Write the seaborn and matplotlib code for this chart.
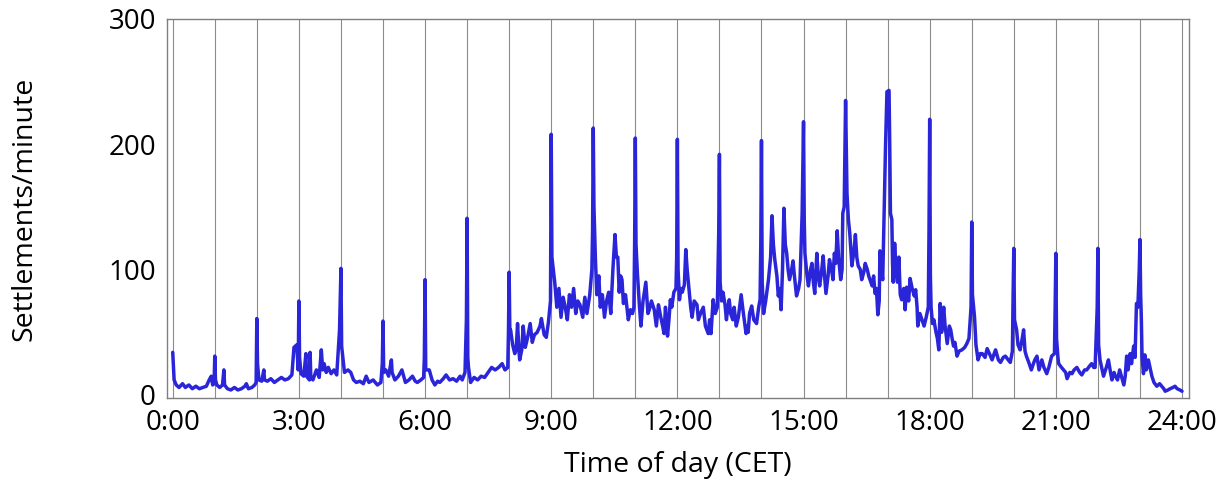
import numpy as np
import pandas as pd
import matplotlib
matplotlib.use("Agg")
import matplotlib.pyplot as plt
import seaborn as sns

# minute of day (0..1440) and settlements per minute
minute = [
    0, 2, 5, 9, 14, 18, 23, 28, 33, 38, 43, 48, 52, 55, 57, 59,
    60, 61, 63, 67, 71, 73, 74, 78, 83, 88, 93, 98, 103, 105, 108, 113, 117, 119,
    120, 121, 123, 127, 130, 131, 135, 140, 145, 150, 155, 160, 165, 170, 173, 177, 179,
    180, 181, 183, 187, 190, 191, 195, 196, 197, 200, 205, 209, 212, 214, 216, 219, 222, 226, 230, 234, 238,
    240, 241, 245, 250, 254, 258, 262, 267, 272, 276, 280, 286, 292, 297, 299,
    300, 301, 304, 308, 312, 313, 317, 322, 327, 332, 337, 342, 346, 349, 354, 358, 359,
    360, 361, 366, 370, 374, 378, 381, 386, 390, 395, 400, 405, 410, 413, 417, 419,
    420, 421, 422, 425, 430, 435, 440, 445, 450, 455, 460, 465, 470, 474, 478, 479,
    480, 481, 482, 485, 488, 490, 492, 494, 495, 498, 500, 503, 506, 510, 513, 516, 520, 524, 526, 530, 533, 536, 539,
    540, 541, 543, 545, 548, 551, 554, 557, 560, 563, 566, 569, 572, 575, 578, 581, 585, 588, 591, 595, 598, 599,
    600, 601, 603, 605, 608, 610, 613, 616, 619, 622, 625, 628, 631, 633, 635, 637, 639, 641, 643, 646, 648, 650, 653, 656, 658, 659,
    660, 661, 663, 666, 668, 671, 675, 678, 680, 683, 687, 690, 693, 696, 699, 701, 703, 706, 708, 710, 712, 715, 718, 719,
    720, 721, 723, 725, 727, 730, 732, 734, 737, 739, 741, 744, 748, 750, 753, 757, 760, 764, 766, 768, 771, 774, 777, 779,
    780, 781, 783, 785, 788, 790, 792, 794, 796, 799, 801, 804, 807, 811, 814, 818, 820, 821, 823, 826, 829, 833, 836, 838, 839,
    840, 841, 843, 846, 850, 853, 855, 857, 859, 862, 864, 866, 868, 870, 872, 874, 876, 878, 880, 883, 885, 887, 890, 893, 895, 898,
    900, 901, 902, 905, 907, 910, 912, 914, 916, 919, 921, 923, 926, 928, 930, 932, 935, 937, 940, 942, 944, 946, 948, 950, 953, 955, 956, 958,
    960, 962, 964, 966, 969, 972, 974, 976, 978, 981, 983, 986, 988, 991, 993, 996, 998, 1000, 1002, 1004, 1006, 1008, 1009, 1011, 1013,
    1017, 1019, 1022, 1023, 1024, 1026, 1027, 1028, 1030, 1032, 1034, 1036, 1038, 1040, 1043, 1045, 1047, 1050, 1052, 1055, 1058,
    1060, 1062, 1063, 1066, 1069, 1072, 1075, 1078, 1079,
    1080, 1081, 1082, 1084, 1086, 1089, 1091, 1093, 1095, 1097, 1100, 1102, 1105, 1108, 1110, 1112, 1114, 1116, 1119, 1122, 1126, 1130, 1133, 1136, 1139,
    1140, 1141, 1144, 1146, 1149, 1152, 1155, 1159, 1162, 1166, 1169, 1172, 1174, 1178, 1181, 1185, 1188, 1192, 1195, 1198, 1199,
    1200, 1201, 1204, 1206, 1209, 1212, 1214, 1216, 1218, 1222, 1225, 1228, 1230, 1233, 1236, 1240, 1243, 1247, 1250, 1254, 1258, 1259,
    1260, 1261, 1263, 1264, 1268, 1271, 1274, 1276, 1280, 1283, 1286, 1290, 1294, 1297, 1301, 1304, 1308, 1311, 1314, 1316, 1319,
    1320, 1321, 1323, 1326, 1328, 1332, 1335, 1338, 1340, 1343, 1345, 1348, 1351, 1354, 1357, 1359, 1361, 1363, 1366, 1368, 1371, 1373, 1375, 1377, 1379,
    1380, 1381, 1382, 1383, 1385, 1387, 1389, 1392, 1395, 1397, 1400, 1404, 1408, 1411, 1414, 1416, 1420, 1423, 1427, 1430, 1433, 1437, 1440,
]

settlements = [
    34, 12, 8, 6, 9, 6, 8, 5, 7, 5, 6, 7, 12, 15, 8, 9,
    31, 12, 8, 6, 8, 20, 8, 5, 4, 6, 4, 5, 7, 9, 5, 6, 8, 10,
    61, 25, 12, 11, 20, 12, 11, 13, 10, 12, 14, 12, 13, 16, 38, 40, 20,
    75, 30, 17, 15, 33, 15, 12, 34, 14, 12, 20, 14, 36, 20, 25, 18, 22, 17, 20, 16, 52,
    101, 39, 18, 20, 18, 12, 10, 11, 9, 15, 10, 12, 8, 10, 25,
    59, 18, 20, 15, 28, 18, 12, 15, 20, 10, 12, 15, 11, 10, 12, 14, 30,
    92, 20, 20, 12, 8, 11, 10, 13, 16, 12, 13, 11, 15, 12, 18, 60,
    141, 30, 22, 10, 14, 12, 15, 14, 18, 22, 20, 22, 25, 20, 22, 50,
    98, 50, 52, 40, 33, 36, 57, 35, 28, 36, 55, 38, 45, 57, 42, 48, 50, 55, 61, 48, 46, 58, 75,
    208, 110, 100, 90, 70, 85, 62, 78, 70, 60, 80, 70, 85, 65, 75, 72, 62, 78, 65, 80, 100, 130,
    213, 150, 110, 80, 95, 70, 80, 62, 75, 82, 65, 100, 128, 110, 110, 82, 95, 92, 73, 80, 70, 60, 68, 65, 70, 120,
    205, 120, 97, 70, 55, 75, 90, 65, 68, 75, 68, 55, 72, 63, 55, 49, 70, 47, 60, 76, 70, 82, 85, 110,
    204, 100, 76, 85, 82, 88, 116, 100, 82, 70, 62, 75, 72, 60, 65, 70, 55, 49, 60, 49, 76, 65, 70, 130,
    192, 90, 75, 82, 72, 60, 70, 76, 65, 60, 70, 55, 62, 80, 66, 49, 55, 50, 65, 71, 60, 57, 70, 76, 120,
    203, 90, 65, 75, 92, 110, 143, 120, 108, 95, 79, 85, 68, 100, 149, 120, 113, 100, 92, 100, 107, 95, 79, 85, 92, 145,
    218, 140, 113, 95, 87, 100, 105, 90, 81, 113, 95, 87, 100, 111, 95, 81, 95, 108, 100, 92, 113, 105, 131, 110, 92, 100, 145, 150,
    235, 161, 140, 129, 103, 115, 128, 110, 103, 100, 92, 98, 105, 100, 95, 90, 87, 95, 81, 85, 64, 75, 115, 100, 92,
    199, 242, 243, 200, 145, 140, 105, 90, 121, 100, 90, 110, 80, 76, 85, 68, 86, 75, 93, 85, 79,
    84, 70, 55, 65, 60, 55, 62, 70, 130,
    220, 95, 70, 57, 60, 50, 45, 36, 73, 50, 70, 55, 41, 55, 52, 45, 39, 42, 31, 35, 36, 38, 41, 45, 70,
    138, 80, 62, 40, 28, 33, 33, 30, 37, 32, 28, 33, 36, 28, 26, 30, 31, 28, 26, 35, 80,
    117, 60, 52, 40, 36, 45, 52, 35, 31, 25, 20, 25, 28, 31, 20, 28, 22, 17, 22, 31, 33, 70,
    113, 45, 30, 25, 22, 20, 18, 13, 18, 17, 20, 22, 18, 16, 20, 20, 23, 25, 22, 22, 70,
    117, 40, 28, 20, 15, 22, 28, 18, 12, 18, 15, 12, 20, 14, 8, 15, 31, 20, 33, 25, 39, 30, 73, 70, 100,
    124, 80, 60, 30, 17, 32, 20, 28, 20, 15, 10, 7, 9, 7, 5, 3, 4, 5, 6, 7, 5, 4, 3,
]

hour_ticks = list(range(0, 1441, 60))
label_ticks = list(range(0, 1441, 180))
tick_labels = ["0:00", "3:00", "6:00", "9:00", "12:00", "15:00", "18:00", "21:00", "24:00"]
y_ticks = [0, 100, 200, 300]

df = pd.DataFrame({"minute": minute, "settlements": settlements})

sns.set_style("white")
plt.rcParams["font.family"] = ["Open Sans", "DejaVu Sans"]

fig = plt.figure(figsize=(12.31, 4.83), dpi=100)
ax = fig.add_axes([0.1357, 0.176, 0.9659 - 0.1357, 0.9607 - 0.176])

for t in hour_ticks:
    ax.axvline(t, color="#8c8c8c", lw=0.8, zorder=0)

sns.lineplot(data=df, x="minute", y="settlements", ax=ax, color="#2B25D9",
             lw=2.5, estimator=None, sort=False, zorder=3)

ax.set_xlim(-8.1, 1450)
ax.set_ylim(-2.4, 300)

ax.set_xticks(hour_ticks, minor=True)
ax.set_xticks(label_ticks)
ax.set_xticklabels(tick_labels)
ax.set_yticks(y_ticks)

for s in ax.spines.values():
    s.set_color("#7f7f7f")
    s.set_linewidth(1.0)

ax.tick_params(axis="both", which="major", direction="out", length=5, width=1,
               color="#7f7f7f", labelsize=20, labelcolor="black", pad=3)
ax.tick_params(axis="x", which="minor", direction="out", length=4, width=1, color="#7f7f7f")

ax.set_xlabel("Time of day (CET)", fontsize=20.5, labelpad=10, color="black")
ax.set_ylabel("Settlements/minute", fontsize=20.5, labelpad=50, color="black")

fig.savefig("out.png", dpi=100)
